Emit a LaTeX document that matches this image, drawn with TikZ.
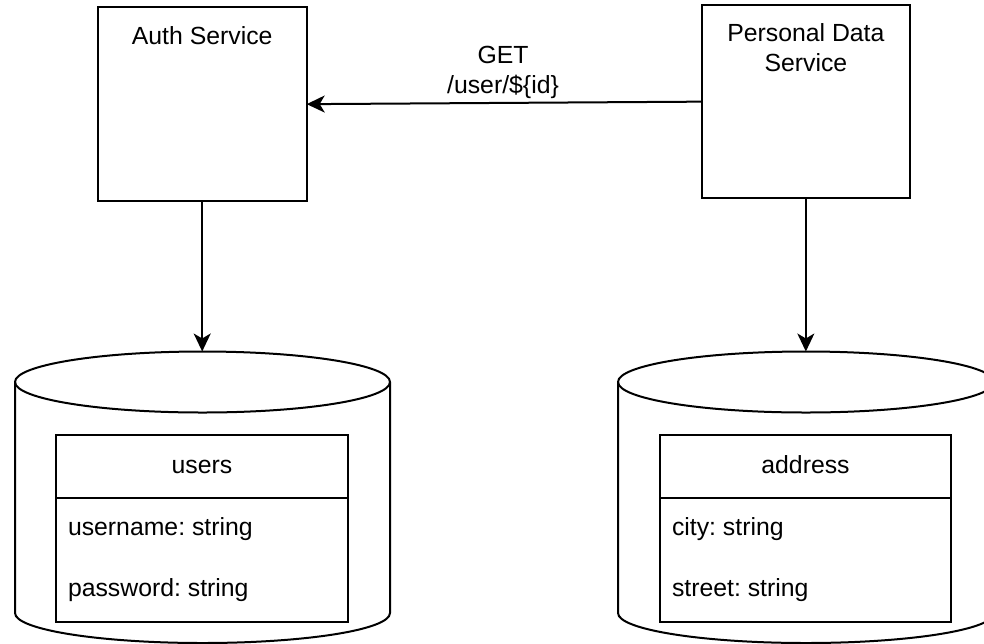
\documentclass[tikz,border=0pt]{standalone}
\usepackage{fontspec}
\setmainfont{Liberation Sans}
\usetikzlibrary{arrows.meta}
\frenchspacing
\begin{document}
\begin{tikzpicture}[x=1pt,y=1pt,
  every node/.style={font=\fontsize{24.8}{29.8}\selectfont\frenchspacing, inner sep=0pt, outer sep=0pt},
  svc/.style={draw, line width=2pt, inner sep=0pt},
  tbl/.style={draw, line width=2pt, fill=white, minimum height=187pt, inner sep=0pt},
  txt/.style={anchor=base},
  row/.style={anchor=base west},
  line/.style={line width=2pt},
  arr/.style={line width=2pt, -{Stealth[length=18pt,width=17pt,inset=5pt]}},
  cyl/.style={line width=2pt, fill=white}]
\useasboundingbox (0,0) rectangle (984,-643);
% service boxes
\node[svc, minimum width=209pt, minimum height=193.7pt] (auth) at (202.2,-104.15) {};
\node[svc, minimum width=208.3pt, minimum height=193.3pt] (pds) at (805.85,-101.65) {};
\node[txt] (authlbl) at (202.2,-44) {Auth Service};
\node[txt] (pdslbl1) at (805.85,-41.7) {Personal Data};
\node[txt] (pdslbl2) at (805.85,-71) {Service};
% cylinders
\draw[cyl] (15,-382) -- (15,-613) arc[start angle=180,end angle=360,x radius=187.5,y radius=30]
  -- (390,-382) arc[start angle=0,end angle=180,x radius=187.5,y radius=30.5] -- cycle;
\draw[line] (15,-382) arc[start angle=180,end angle=360,x radius=187.5,y radius=30.5];
\draw[cyl] (618,-382) -- (618,-613) arc[start angle=180,end angle=360,x radius=188,y radius=30]
  -- (994,-382) arc[start angle=0,end angle=180,x radius=188,y radius=30.5] -- cycle;
\draw[line] (618,-382) arc[start angle=180,end angle=360,x radius=188,y radius=30.5];
\coordinate (dbA) at (202.2,-351.5);
\coordinate (dbB) at (805.85,-351.5);
% tables
\node[tbl, minimum width=292pt] (tabA) at (202,-528.5) {};
\draw[line] ([yshift=-62.5pt]tabA.north west) -- ([yshift=-62.5pt]tabA.north east);
\node[txt] (usersT) at (202,-473.3) {users};
\node[row] (usersR1) at (68,-535) {username: string};
\node[row] (usersR2) at (68,-596.7) {password: string};
\node[tbl, minimum width=291pt] (tabB) at (805.5,-528.5) {};
\draw[line] ([yshift=-62.5pt]tabB.north west) -- ([yshift=-62.5pt]tabB.north east);
\node[txt] (addrT) at (805.5,-473.3) {address};
\node[row] (addrR1) at (672,-535) {city: string};
\node[row] (addrR2) at (672,-596.7) {street: string};
% connectors
\draw[arr] (pds.west) -- (auth.east);
\node[txt] (getlbl1) at (503,-63.3) {GET};
\node[txt] (getlbl2) at (503,-93.3) {/user/\$\{id\}};
\draw[arr] (auth.south) -- (dbA);
\draw[arr] (pds.south) -- (dbB);
\end{tikzpicture}
\end{document}
